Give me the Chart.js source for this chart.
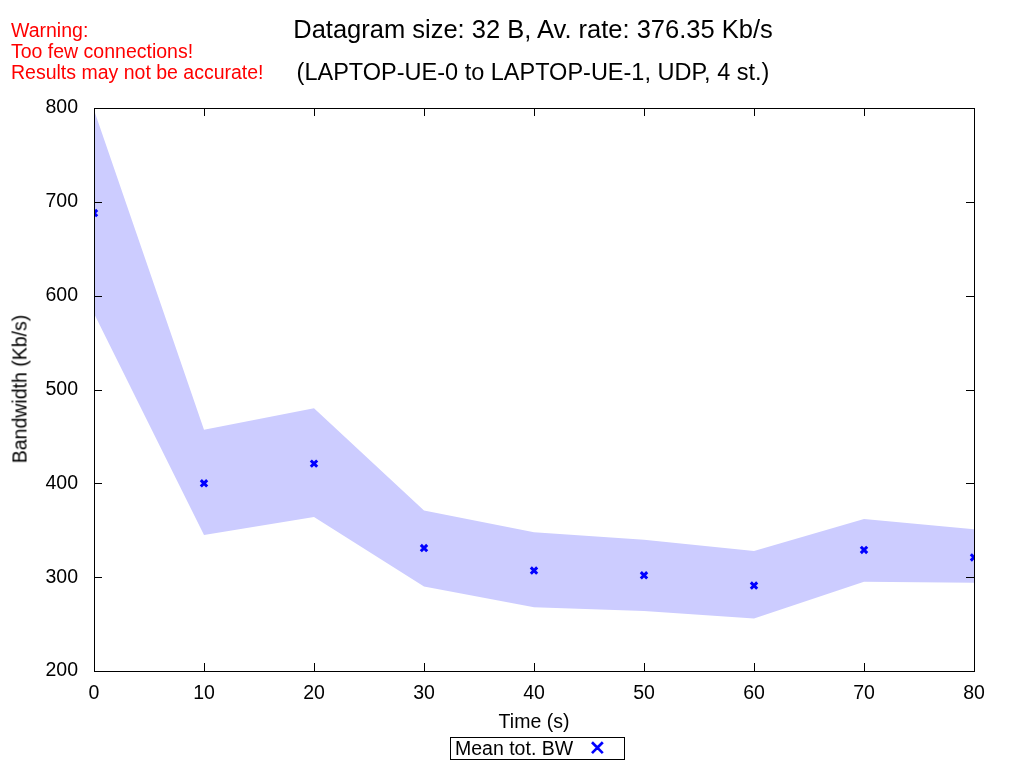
<!DOCTYPE html>
<html><head><meta charset="utf-8">
<script src="https://cdn.jsdelivr.net/npm/chart.js@4"></script>
<style>
body{margin:0;background:#fff;font-family:"Liberation Sans",Arial,sans-serif;}
#wrap{position:relative;width:1024px;height:768px;}
.t{position:absolute;white-space:nowrap;font-size:19.5px;color:#000;}
.r{color:#f00;font-size:19.5px;line-height:21px;}
</style></head><body>
<div id="wrap">
<canvas id="c" width="1024" height="768"></canvas>
<div class="t r" style="left:11px;top:20px;">Warning:<br>Too few connections!<br>Results may not be accurate!</div>
<div class="t" style="left:533px;top:15px;transform:translateX(-50%);font-size:25.5px;">Datagram size: 32 B, Av. rate: 376.35 Kb/s</div>
<div class="t" style="left:533px;top:59px;transform:translateX(-50%);font-size:23.5px;">(LAPTOP-UE-0 to LAPTOP-UE-1, UDP, 4 st.)</div>
<div class="t" style="left:534px;top:710px;transform:translateX(-50%);">Time (s)</div>
<div class="t" style="left:20px;top:389px;transform:translate(-50%,-50%) rotate(-90deg);">Bandwidth (Kb/s)</div>
<div class="t" style="left:450px;top:737px;border:1px solid #000;padding:0 18px 0 4px;height:21px;line-height:21px;">Mean tot. BW <span style="color:#00f;font-weight:bold;margin-left:10px;">✕</span></div>
</div>
<script>
const times=[0,10,20,30,40,50,60,70,80];
const meanBW=[688,400,421,331,307,302,291,329,321];
const upperBW=[798,457,480,371,348,340,328,362,351];
const lowerBW=[581,345,364,290,268,264,256,295,294];
const xTicks=[0,10,20,30,40,50,60,70,80];
const yTicks=[200,300,400,500,600,700,800];
const pts=a=>times.map((t,i)=>({x:t,y:a[i]}));
const boxPlugin={id:'box',afterDatasetsDraw(ch){const {ctx,chartArea:a}=ch;ctx.save();ctx.strokeStyle='#000';ctx.lineWidth=1;ctx.strokeRect(a.left+0.5,a.top+0.5,a.right-a.left,a.bottom-a.top);
ctx.beginPath();const xs=ch.scales.x,ys=ch.scales.y;
xTicks.forEach(v=>{const p=Math.round(xs.getPixelForValue(v))+0.5;ctx.moveTo(p,a.bottom);ctx.lineTo(p,a.bottom-8);ctx.moveTo(p,a.top);ctx.lineTo(p,a.top+8);});
yTicks.forEach(v=>{const p=Math.round(ys.getPixelForValue(v))+0.5;ctx.moveTo(a.left,p);ctx.lineTo(a.left+8,p);ctx.moveTo(a.right,p);ctx.lineTo(a.right-8,p);});
ctx.stroke();ctx.restore();}};
new Chart(document.getElementById('c'),{type:'scatter',
data:{datasets:[
{data:pts(upperBW),order:2,showLine:true,fill:'+1',backgroundColor:'rgb(204,204,255)',borderWidth:0,pointRadius:0,tension:0},
{data:pts(lowerBW),order:2,showLine:true,fill:false,borderWidth:0,pointRadius:0,tension:0},
{data:pts(meanBW),order:0,showLine:false,pointStyle:'crossRot',pointRadius:4.5,pointBorderWidth:3,pointBorderColor:'#0000ff',pointBackgroundColor:'#0000ff',borderColor:'#0000ff'}
]},
options:{responsive:false,animation:false,devicePixelRatio:1,
layout:{padding:{left:0,right:50,top:108,bottom:0}},
plugins:{legend:{display:false},tooltip:{enabled:false}},
scales:{
x:{type:'linear',min:0,max:80,afterFit(s){s.height=97;},afterBuildTicks(s){s.ticks=xTicks.map(v=>({value:v}));},
grid:{display:false},border:{display:false},ticks:{color:'#000',font:{size:19.5,family:'Liberation Sans'},padding:3,maxRotation:0}},
y:{min:200,max:800,afterFit(s){s.width=94;},afterBuildTicks(s){s.ticks=yTicks.map(v=>({value:v}));},
grid:{display:false},border:{display:false},ticks:{color:'#000',font:{size:19.5,family:'Liberation Sans'},padding:8}}
}},plugins:[boxPlugin]});
</script></body></html>
